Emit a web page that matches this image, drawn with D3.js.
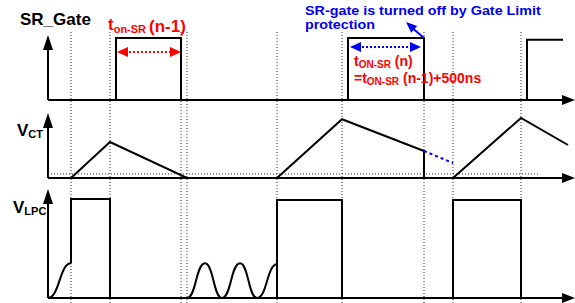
<!DOCTYPE html>
<html><head><meta charset="utf-8">
<script src="https://cdn.jsdelivr.net/npm/d3@7/dist/d3.min.js"></script>
<style>body{margin:0;background:#fff}svg{display:block}text{font-family:"Liberation Sans",Arial,sans-serif;font-weight:bold}</style>
</head><body><svg id="c" width="575" height="303"></svg>
<script>
// time in arbitrary units, levels normalized 0..1
const markTimes = [23, 62, 133, 139, 229, 294, 376, 405, 473];
const gateT = [0, 68, 68, 133, 133, 300, 300, 376, 376, 479, 479, 515];
const gateV = [0, 0, 1, 1, 0, 0, 1, 1, 0, 0, 0.97, 0.97];
const vctT = [0, 23, 62, 139, 229, 294, 376, 376, 405, 473, 520];
const vctV = [0, 0, 0.6, 0, 0, 0.98, 0.45, 0, 0, 1, 0.55];
const vctExtT = [376, 405];
const vctExtV = [0.45, 0.25];
const vctRefV = 0.067, vctRefEnd = 492;
const lpcRampT = [0, 23];
const lpcRampV = [0, 0.35];
const lpcRingT = [139, 157, 174, 192, 209, 229];
const lpcRingV = [0, 0.35, 0, 0.35, 0, 0.34];
const lpcT = [23, 23, 62, 62, 229, 229, 294, 294, 405, 405, 473, 473];
const lpcV = [0.35, 1, 1, 0, 0, 0.99, 0.99, 0, 0, 0.99, 0.99, 0];
const tMax = 527;

const svg = d3.select("#c");
const x = d3.scaleLinear().domain([0, tMax]).range([48, 575]);
const yG = d3.scaleLinear().domain([0, 1]).range([100, 38]);
const yC = d3.scaleLinear().domain([0, 1]).range([178, 118]);
const yL = d3.scaleLinear().domain([0, 1]).range([298, 199]);
const zip = (a, b) => a.map((t, i) => [t, b[i]]);

// dotted guide lines
svg.selectAll("line.mark").data(markTimes).join("line")
  .attr("x1", d => x(d)).attr("x2", d => x(d)).attr("y1", 32).attr("y2", 303)
  .attr("stroke", "#333").attr("stroke-width", 1).attr("stroke-dasharray", "1,2");

// axes
function axes(y, topPx) {
  const y0 = y(0), x0 = x(0), x1 = x(tMax);
  svg.append("line").attr("x1", x0).attr("x2", x1 - 10).attr("y1", y0).attr("y2", y0)
    .attr("stroke", "#000").attr("stroke-width", 2);
  svg.append("path").attr("d", `M${x1},${y0} L${x1 - 13},${y0 - 5} L${x1 - 13},${y0 + 5}Z`).attr("fill", "#000");
  svg.append("line").attr("x1", x0).attr("x2", x0).attr("y1", y0).attr("y2", topPx + 10)
    .attr("stroke", "#000").attr("stroke-width", 2);
  svg.append("path").attr("d", `M${x0},${topPx} L${x0 - 5},${topPx + 15} L${x0 + 5},${topPx + 15}Z`).attr("fill", "#000");
}
axes(yG, 35); axes(yC, 113); axes(yL, 189);

const lineG = d3.line().x(d => x(d[0])).y(d => yG(d[1]));
const lineC = d3.line().x(d => x(d[0])).y(d => yC(d[1]));
const lineL = d3.line().x(d => x(d[0])).y(d => yL(d[1]));
const lineLB = d3.line().x(d => x(d[0])).y(d => yL(d[1])).curve(d3.curveBumpX);
const sig = p => p.attr("fill", "none").attr("stroke", "#000").attr("stroke-width", 2).attr("stroke-linejoin", "miter");

sig(svg.append("path").attr("d", lineG(zip(gateT, gateV))));
svg.append("line").attr("x1", x(0)).attr("x2", x(vctRefEnd))
  .attr("y1", yC(vctRefV)).attr("y2", yC(vctRefV))
  .attr("stroke", "#333").attr("stroke-width", 1).attr("stroke-dasharray", "1,2");
sig(svg.append("path").attr("d", lineC(zip(vctT, vctV))));
svg.append("path").attr("d", lineC(zip(vctExtT, vctExtV))).attr("fill", "none")
  .attr("stroke", "#0000ee").attr("stroke-width", 2).attr("stroke-dasharray", "3,3");
sig(svg.append("path").attr("d", lineLB(zip(lpcRampT, lpcRampV))));
sig(svg.append("path").attr("d", lineLB(zip(lpcRingT, lpcRingV))));
sig(svg.append("path").attr("d", lineL(zip(lpcT, lpcV))));

// double arrows
function dblArrow(t1, t2, ypx, color) {
  const a = x(t1), b = x(t2);
  svg.append("line").attr("x1", a + 8).attr("x2", b - 8).attr("y1", ypx).attr("y2", ypx)
    .attr("stroke", color).attr("stroke-width", 2).attr("stroke-dasharray", "2,2");
  svg.append("path").attr("d", `M${a},${ypx} L${a + 11},${ypx - 5} L${a + 11},${ypx + 5}Z`).attr("fill", color);
  svg.append("path").attr("d", `M${b},${ypx} L${b - 11},${ypx - 5} L${b - 11},${ypx + 5}Z`).attr("fill", color);
}
dblArrow(69, 133, 52, "#ff0000");
dblArrow(302, 373, 47, "#0000ee");

// blue pointer arrow
{
  const tx = x(376), ty = yG(1), hx = 358, hy = 22;
  svg.append("line").attr("x1", tx).attr("y1", ty).attr("x2", x(hx) + 4).attr("y2", hy + 4)
    .attr("stroke", "#0000ee").attr("stroke-width", 2);
  const ang = Math.atan2(ty - hy, tx - x(hx));
  const L = 11, W = 4.5;
  const bx = x(hx) + L * Math.cos(ang), by = hy + L * Math.sin(ang);
  svg.append("path").attr("d", `M${x(hx)},${hy} L${bx - W * Math.sin(ang)},${by + W * Math.cos(ang)} L${bx + W * Math.sin(ang)},${by - W * Math.cos(ang)}Z`).attr("fill", "#0000ee");
}

// labels
svg.append("text").attr("x", 20).attr("y", 25).attr("font-size", 17).text("SR_Gate");
const vct = svg.append("text").attr("x", 17).attr("y", 136).attr("font-size", 17);
vct.append("tspan").text("V");
vct.append("tspan").attr("font-size", 11).attr("dy", 2).text("CT");
const vl = svg.append("text").attr("x", 13).attr("y", 213).attr("font-size", 17);
vl.append("tspan").text("V");
vl.append("tspan").attr("font-size", 11).attr("dy", 2).text("LPC");

const r1 = svg.append("text").attr("x", 108).attr("y", 30).attr("fill", "#ff0000").attr("font-size", 17);
r1.append("tspan").text("t");
r1.append("tspan").attr("font-size", 11).attr("dy", 3).text("on-SR");
r1.append("tspan").attr("dy", -1).attr("dx", 3).text("(n-1)");

const r2 = svg.append("text").attr("x", 354).attr("y", 66).attr("fill", "#ff0000").attr("font-size", 14);
r2.append("tspan").text("t");
r2.append("tspan").attr("font-size", 10).attr("dy", 2).text("ON-SR");
r2.append("tspan").attr("dy", -2).text(" (n)");
const r3 = svg.append("text").attr("x", 354).attr("y", 83).attr("fill", "#ff0000").attr("font-size", 14);
r3.append("tspan").text("=t");
r3.append("tspan").attr("font-size", 10).attr("dy", 2).text("ON-SR");
r3.append("tspan").attr("dy", -2).text(" (n-1)+500ns");

function wideText(str, px, py, w) {
  const t = svg.append("text").attr("x", 0).attr("y", 0).attr("fill", "#0000ee").attr("font-size", 12).text(str);
  const k = w / t.node().getComputedTextLength();
  t.attr("transform", `translate(${px},${py}) scale(${k},1)`);
}
wideText("SR-gate is turned off by Gate Limit", 305, 15, 236);
wideText("protection", 305, 29, 70);
</script></body></html>
